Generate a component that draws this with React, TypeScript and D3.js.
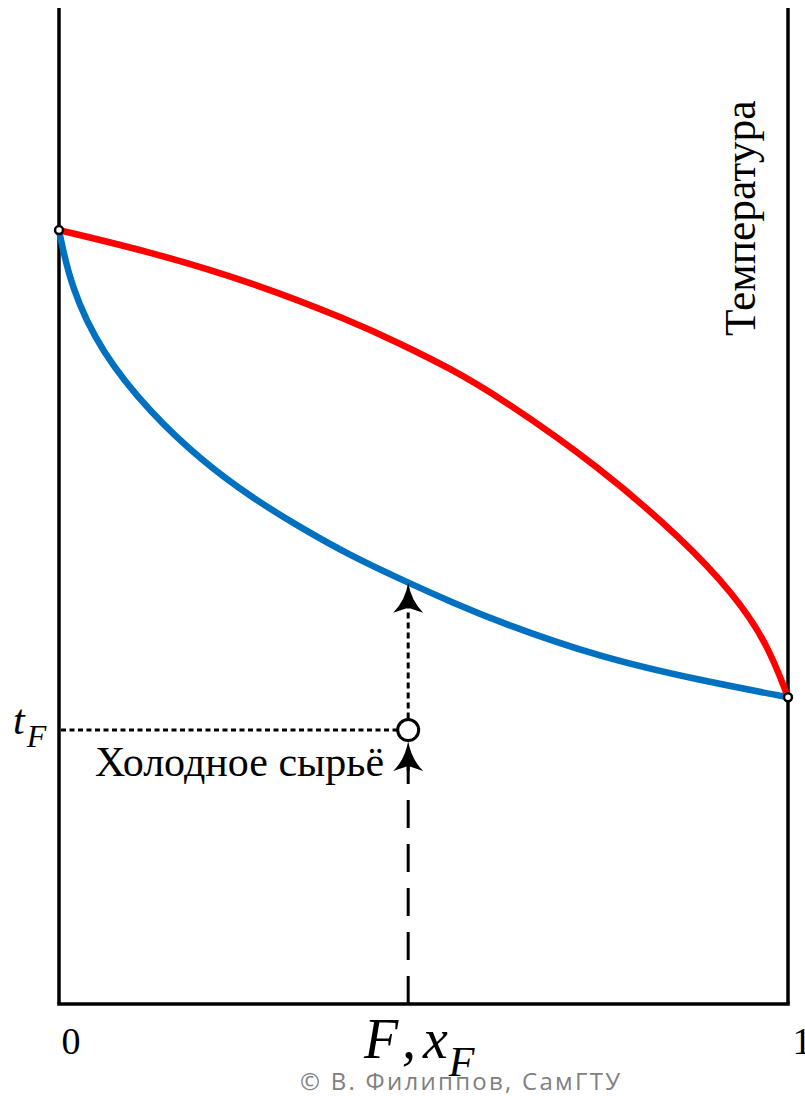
import React, { useEffect, useRef } from 'react';
import * as d3 from 'd3';

// dew (vapour) curve and boiling (liquid) curve, x = mole fraction, t = temperature (arb. units)
const dewX = [0, 0.126, 0.263, 0.4, 0.468, 0.537, 0.605, 0.742, 0.856, 0.925, 0.971, 1];
const dewT = [77.7, 75.5, 72.5, 68.6, 66.3, 63.8, 60.9, 53.9, 46.6, 41.2, 36.3, 30.8];
const boilX = [0, 0.016, 0.058, 0.126, 0.195, 0.263, 0.332, 0.4, 0.479, 0.537, 0.605, 0.742, 0.879, 1];
const boilT = [77.7, 72.0, 65.4, 59.3, 54.6, 50.9, 47.8, 45.0, 42.3, 40.4, 38.3, 34.8, 32.5, 30.8];

// cold feed point
const feedX = 0.479;
const feedT = 27.5;
const feedBoilT = 42.3;

const tickLabels = ['0', '1'];
const feedLabel = 'Холодное сырьё';
const yTitle = 'Температура';
const credit = '© В. Филиппов, СамГТУ';

const App: React.FC = () => {
  const svgRef = useRef<SVGSVGElement>(null);

  useEffect(() => {
    if (!svgRef.current) return;
    const width = 805;
    const height = 1096;
    const svg = d3.select(svgRef.current);
    svg.selectAll('*').remove();

    svg.append('rect').attr('width', width).attr('height', height).attr('fill', '#ffffff');

    const x = d3.scaleLinear().domain([0, 1]).range([59, 788]);
    const y = d3.scaleLinear().domain([0, 100]).range([1004, 8]);

    const serif = "'Liberation Serif', 'Times New Roman', serif";

    // frame
    svg.append('line').attr('x1', x(0)).attr('y1', y(100)).attr('x2', x(0)).attr('y2', y(0))
      .attr('stroke', '#000').attr('stroke-width', 3.5);
    svg.append('line').attr('x1', x(1)).attr('y1', y(100)).attr('x2', x(1)).attr('y2', y(0))
      .attr('stroke', '#000').attr('stroke-width', 3.5);
    svg.append('line').attr('x1', x(0) - 1.75).attr('y1', y(0)).attr('x2', x(1) + 1.75).attr('y2', y(0))
      .attr('stroke', '#000').attr('stroke-width', 3.5);

    const line = d3.line<[number, number]>()
      .x(d => x(d[0]))
      .y(d => y(d[1]))
      .curve(d3.curveBasis);

    const boil = boilX.map((v, i) => [v, boilT[i]] as [number, number]);
    const dew = dewX.map((v, i) => [v, dewT[i]] as [number, number]);

    svg.append('path').datum(boil).attr('fill', 'none').attr('stroke', '#0070C0')
      .attr('stroke-width', 6.5).attr('d', line);
    svg.append('path').datum(dew).attr('fill', 'none').attr('stroke', '#FF0000')
      .attr('stroke-width', 6.5).attr('d', line);

    // pure component points
    [[0, dewT[0]], [1, dewT[dewT.length - 1]]].forEach(p => {
      svg.append('circle').attr('cx', x(p[0])).attr('cy', y(p[1])).attr('r', 4)
        .attr('fill', '#fff').attr('stroke', '#000').attr('stroke-width', 2.5);
    });

    const fx = x(feedX);
    const fy = y(feedT);
    const r = 10.5;

    const arrow = (tipX: number, tipY: number) => {
      svg.append('path')
        .attr('d', `M${tipX},${tipY} Q${tipX + 3},${tipY + 18} ${tipX + 15},${tipY + 30} L${tipX},${tipY + 25} L${tipX - 15},${tipY + 30} Q${tipX - 3},${tipY + 18} ${tipX},${tipY} Z`)
        .attr('fill', '#000');
    };

    // dotted t_F level
    svg.append('line').attr('x1', x(0) + 2).attr('y1', fy).attr('x2', fx - r).attr('y2', fy)
      .attr('stroke', '#000').attr('stroke-width', 3).attr('stroke-dasharray', '5,3.5');

    // dotted heating line up to boiling curve
    const boilY = y(feedBoilT);
    svg.append('line').attr('x1', fx).attr('y1', fy - r - 1).attr('x2', fx).attr('y2', boilY + 24)
      .attr('stroke', '#000').attr('stroke-width', 3).attr('stroke-dasharray', '6,4');
    arrow(fx, boilY);

    // dashed feed line from x axis
    svg.append('line').attr('x1', fx).attr('y1', y(0)).attr('x2', fx).attr('y2', fy + r + 18)
      .attr('stroke', '#000').attr('stroke-width', 3).attr('stroke-dasharray', '28,16');
    svg.append('line').attr('x1', fx).attr('y1', fy + r + 18).attr('x2', fx).attr('y2', fy + r + 30)
      .attr('stroke', '#000').attr('stroke-width', 3);
    arrow(fx, fy + r + 0.5);

    svg.append('circle').attr('cx', fx).attr('cy', fy).attr('r', r)
      .attr('fill', '#fff').attr('stroke', '#000').attr('stroke-width', 3);

    // labels
    const tF = svg.append('text').attr('x', 13).attr('y', fy + 4).attr('font-family', serif)
      .attr('font-style', 'italic').attr('font-size', 42).attr('fill', '#000');
    tF.append('tspan').text('t');
    tF.append('tspan').attr('dy', 13).attr('dx', 2).attr('font-size', 32).text('F');

    svg.append('text').attr('x', 95).attr('y', fy + 46).attr('font-family', serif)
      .attr('font-size', 42).attr('fill', '#000').text(feedLabel);

    svg.append('text').attr('transform', `translate(${x(1) - 33},336) rotate(-90)`)
      .attr('font-family', serif).attr('font-size', 43.5).attr('fill', '#000').text(yTitle);

    svg.append('text').attr('x', x(0) + 12).attr('y', 1054).attr('text-anchor', 'middle')
      .attr('font-family', serif).attr('font-size', 38).attr('fill', '#000').text(tickLabels[0]);
    svg.append('text').attr('x', x(1) + 14).attr('y', 1054).attr('text-anchor', 'middle')
      .attr('font-family', serif).attr('font-size', 38).attr('fill', '#000').text(tickLabels[1]);

    const fl = svg.append('text').attr('x', 364).attr('y', 1058).attr('font-family', serif)
      .attr('font-style', 'italic').attr('font-size', 56).attr('fill', '#000');
    fl.append('tspan').text('F');
    fl.append('tspan').attr('dx', 11).text(',');
    fl.append('tspan').attr('dx', 7).text('x');
    fl.append('tspan').attr('dy', 18).attr('dx', 1).attr('font-size', 42).text('F');

    svg.append('text').attr('x', 300).attr('y', 1090)
      .attr('font-family', "'Open Sans', sans-serif").attr('font-size', 24).attr('fill', '#808080')
      .attr('textLength', 320).attr('lengthAdjust', 'spacing')
      .text(credit);
  }, []);

  return (
    <svg ref={svgRef} width={805} height={1096} viewBox="0 0 805 1096"
      style={{ position: 'absolute', left: 0, top: 0, display: 'block' }} />
  );
};

export default App;
